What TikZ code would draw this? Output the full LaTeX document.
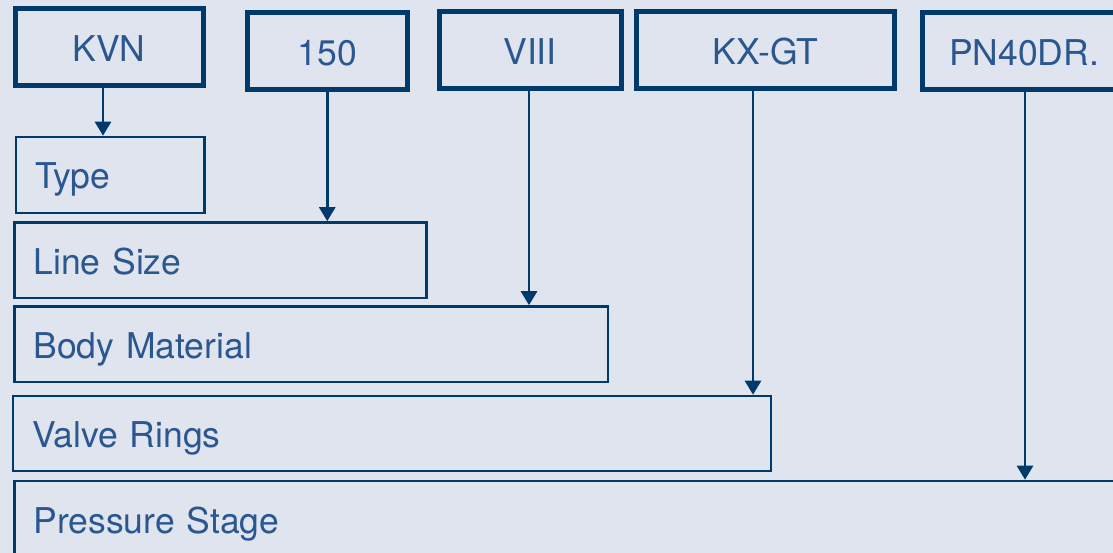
\documentclass[tikz,border=0pt]{standalone}
\usepackage{fontspec}
\setmainfont{TeX Gyre Heros}
\usetikzlibrary{arrows.meta}
\definecolor{bgc}{HTML}{E0E4EE}
\definecolor{edge}{HTML}{003A6C}
\definecolor{ink}{HTML}{2A5790}
\tikzset{
  code/.style={draw=edge, line width=5pt, inner sep=0pt, minimum height=77pt,
    text=ink, font=\fontsize{35.5}{42}\selectfont, text height=28pt, text depth=0pt},
  field/.style={draw=edge, line width=2.6pt, inner ysep=0pt, inner xsep=19pt,
    align=left, text=ink, font=\fontsize{35.5}{42}\selectfont,
    text height=28pt, text depth=0pt},
  arr/.style={draw=edge, line width=2.8pt,
    -{Triangle[width=16pt,length=14pt]}}
}
\begin{document}
\begin{tikzpicture}[x=1pt, y=-1pt]
  \path[use as bounding box, fill=bgc] (0,0) rectangle (1113,553);
  \clip (0,0) rectangle (1113,553);

  % order code segments
  \node[code, minimum width=188pt]   (kvn)  at (109,47.5)   {KVN};
  \node[code, minimum width=159.5pt] (size) at (327.25,51.5) {150};
  \node[code, minimum width=182pt]   (mat)  at (530,50.5)   {VIII};
  \node[code, minimum width=258pt]   (ring) at (765.5,50.5) {KX-GT};
  \node[code, minimum width=203pt]   (pn)   at (1024,51.5)  {PN40DR.};

  % meaning of each segment
  \node[field, text width=150.5pt, minimum height=76pt]   (ftype) at (110.25,175)  {Type};
  \node[field, text width=374pt, minimum height=75.5pt]   (fsize) at (220.5,260.25) {Line Size};
  \node[field, text width=555.5pt, minimum height=75.5pt] (fmat)  at (311.25,344.25) {Body Material};
  \node[field, text width=720pt, minimum height=75pt]     (fring) at (392,433.5)   {Valve Rings};
  \node[field, text width=1077.5pt, minimum height=76pt]  (fpn)   at (572.25,519)  {Pressure Stage};

  % connectors
  \coordinate (a1) at ([xshift=-6pt]kvn.south);
  \coordinate (a2) at ([xshift=0pt]size.south);
  \coordinate (a3) at ([xshift=-1pt]mat.south);
  \coordinate (a4) at ([xshift=-12.5pt]ring.south);
  \coordinate (a5) at ([xshift=1pt]pn.south);
  \draw[arr] (a1) -- (a1 |- ftype.north);
  \draw[arr] (a2) -- (a2 |- fsize.north);
  \draw[arr] (a3) -- (a3 |- fmat.north);
  \draw[arr] (a4) -- (a4 |- fring.north);
  \draw[arr] (a5) -- (a5 |- fpn.north);
\end{tikzpicture}
\end{document}
